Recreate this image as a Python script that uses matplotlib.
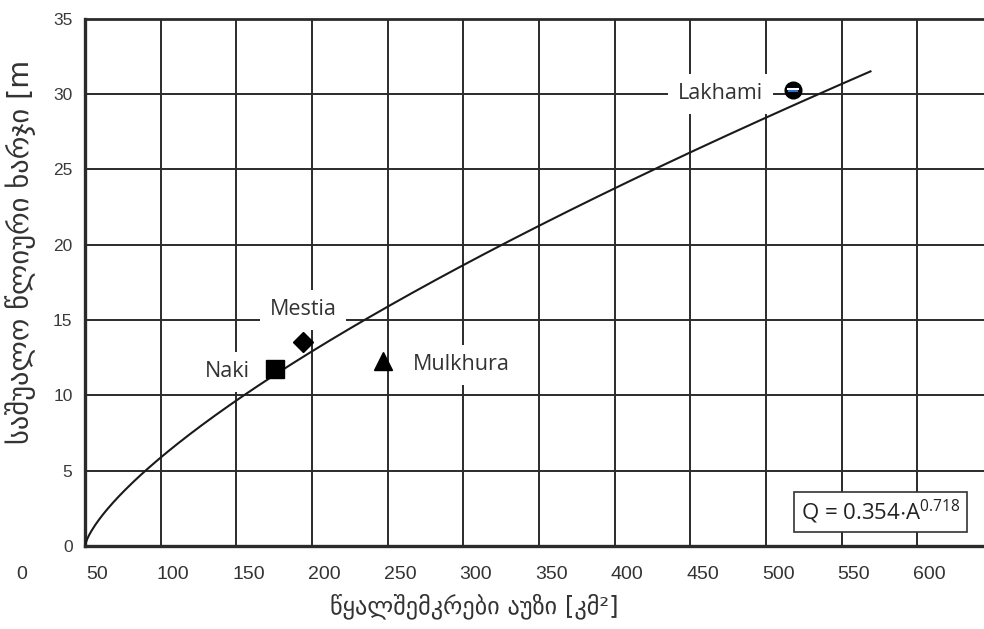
import numpy as np
import matplotlib
matplotlib.use("Agg")
import matplotlib.pyplot as plt
from matplotlib import font_manager, transforms

# catchment area [km2] and mean annual discharge for the gauged rivers
stations = ["Naki", "Mestia", "Mulkhura", "Lakhami"]
area = [125.5, 144.0, 197.0, 467.5]
discharge = [11.75, 13.55, 12.3, 30.3]
markers = ["s", "D", "^", "o"]
marker_sizes = [13, 10, 13, 12]

# regional regression Q = a * A^b
coef_a = 0.354
coef_b = 0.718

x_tick_labels = [0, 50, 100, 150, 200, 250, 300, 350, 400, 450, 500, 550, 600]
y_ticks = [0, 5, 10, 15, 20, 25, 30, 35]

available = {f.name for f in font_manager.fontManager.ttflist}
narrow = "Liberation Sans Narrow" if "Liberation Sans Narrow" in available else "Liberation Sans"
label_font = "Open Sans" if "Open Sans" in available else "DejaVu Sans"

plt.rcParams["mathtext.default"] = "regular"
plt.rcParams["mathtext.fontset"] = "custom"
plt.rcParams["mathtext.rm"] = label_font

fig = plt.figure(figsize=(9.84, 6.29), dpi=100)
ax = fig.add_axes([0.0864, 0.132, 0.9136, 0.838])

ax.set_xlim(0, 594)
ax.set_ylim(0, 35)

grid_col = "#2b2b2b"
ax.set_xticks(np.arange(0, 551, 50))
ax.set_yticks(y_ticks)
ax.set_yticklabels([str(v) for v in y_ticks], fontsize=12.5,
                   fontfamily="Liberation Sans", color="#3a3a3a")
ax.grid(True, color=grid_col, lw=1.4, zorder=1)
ax.set_axisbelow(True)
ax.tick_params(axis="x", length=0, labelbottom=False)
ax.tick_params(axis="y", length=0, pad=9)

for side in ("left", "bottom"):
    ax.spines[side].set_linewidth(2.4)
    ax.spines[side].set_color(grid_col)
ax.spines["top"].set_linewidth(2.0)
ax.spines["top"].set_color(grid_col)
ax.spines["right"].set_visible(False)

# x tick labels sit just right of the gridline one step below their value
xtrans = transforms.blended_transform_factory(ax.transData, ax.transAxes)
for v in x_tick_labels:
    ax.text(v - 42, -0.055, str(v), transform=xtrans, ha="center", va="center",
            fontsize=14, fontfamily=narrow, color="#333333", clip_on=False)

# regression curve
A = np.linspace(0.3, 519, 400)
ax.plot(A, coef_a * A ** coef_b, color="#1a1a1a", lw=1.5, zorder=4)

# station markers
for name, a, q, m, ms in zip(stations, area, discharge, markers, marker_sizes):
    ax.plot(a, q, marker=m, ms=ms, color="black", ls="none", zorder=5)

# banded look of the Lakhami marker
li = stations.index("Lakhami")
band_w = transforms.offset_copy(ax.transData, fig=fig, x=0, y=0.8, units="points")
band_b = transforms.offset_copy(ax.transData, fig=fig, x=0, y=-0.8, units="points")
ax.plot(area[li], discharge[li], marker="_", ms=8, mew=1.5, color="white", transform=band_w, zorder=6)
ax.plot(area[li], discharge[li], marker="_", ms=7, mew=1.5, color="#2f6fd0", transform=band_b, zorder=6)

# station names (offsets in points)
label_offsets = {"Naki": (-34, -2), "Mestia": (0, 23), "Mulkhura": (56, -3), "Lakhami": (-52, -3)}
for name, a, q in zip(stations, area, discharge):
    ax.annotate(name, (a, q), xytext=label_offsets[name], textcoords="offset points",
                ha="center", va="center", fontsize=15.5, fontfamily=label_font, color="#333333",
                bbox=dict(boxstyle="square,pad=0.45", facecolor="white", edgecolor="none"),
                zorder=3)

# equation box
ax.text(0.885, 0.0645, r"Q = 0.354$\cdot$A$^{0.718}$", transform=ax.transAxes,
        ha="center", va="center", fontsize=16, fontfamily=label_font, color="#222222",
        bbox=dict(boxstyle="square,pad=0.28", facecolor="white", edgecolor="#333333", lw=1.2),
        zorder=6)

geo = ["DejaVu Sans"]
fig.text(0.021, 0.599, "საშუალო წლიური ხარჯი [m", rotation=90, ha="center", va="center",
         fontsize=20.5, fontfamily=geo, color="#333333")
fig.text(0.482, 0.037, "წყალშემკრები აუზი [კმ²]", ha="center", va="center",
         fontsize=17.5, fontfamily=geo, color="#333333")

fig.savefig("out.png", dpi=100)
